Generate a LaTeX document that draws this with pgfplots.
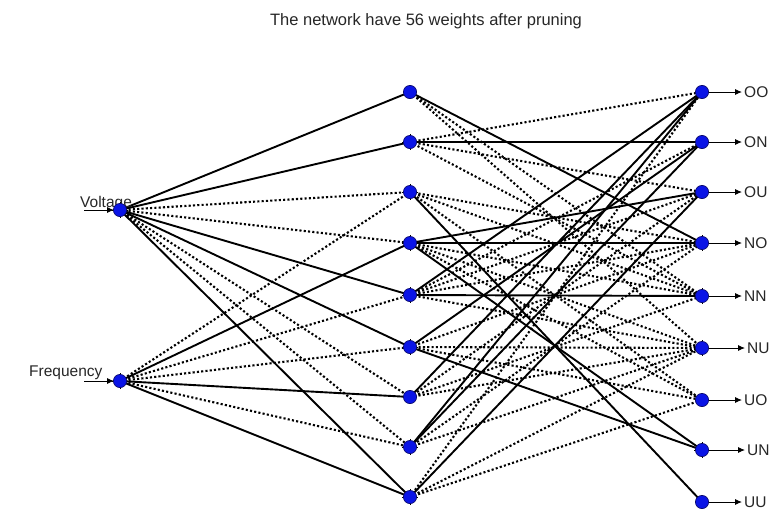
\documentclass[border=0pt]{standalone}
\usepackage{pgfplots}
\pgfplotsset{compat=1.18}
\usepackage{fontspec}
\setmainfont{Liberation Sans}
\usetikzlibrary{arrows.meta}
\definecolor{nodeblue}{RGB}{10,20,230}
\definecolor{nodeedge}{RGB}{10,10,110}
\begin{document}
\begin{tikzpicture}
\begin{axis}[
  scale only axis, width=783pt, height=512pt,
  xmin=0, xmax=783, ymin=0, ymax=512, y dir=reverse,
  hide axis, clip=false,
  sol/.style={black, line width=1.9pt, no marks},
  dot/.style={black, line width=2.1pt, dash pattern=on 2.1pt off 2.2pt, no marks},
  arr/.style={black, line width=0.9pt, no marks, -{Latex[length=7pt,width=6pt]}},
]
% ---------------- input -> hidden ----------------
% Voltage (120,210)
\addplot[sol] coordinates {(120,210) (410,92)};
\addplot[sol] coordinates {(120,210) (410,142)};
\addplot[dot] coordinates {(120,210) (410,192)};
\addplot[dot] coordinates {(120,210) (410,243)};
\addplot[sol] coordinates {(120,210) (410,295)};
\addplot[sol] coordinates {(120,210) (410,347)};
\addplot[dot] coordinates {(120,210) (410,397)};
\addplot[dot] coordinates {(120,210) (410,447)};
\addplot[sol] coordinates {(120,210) (410,497)};
% Frequency (120,381)
\addplot[dot] coordinates {(120,381) (410,192)};
\addplot[sol] coordinates {(120,381) (410,243)};
\addplot[dot] coordinates {(120,381) (410,295)};
\addplot[dot] coordinates {(120,381) (410,347)};
\addplot[sol] coordinates {(120,381) (410,397)};
\addplot[dot] coordinates {(120,381) (410,447)};
\addplot[sol] coordinates {(120,381) (410,497)};
% ---------------- hidden -> output ----------------
% H1
\addplot[sol] coordinates {(410,92) (702,243)};
\addplot[dot] coordinates {(410,92) (702,296)};
\addplot[dot] coordinates {(410,92) (702,348)};
% H2
\addplot[dot] coordinates {(410,142) (702,92)};
\addplot[sol] coordinates {(410,142) (702,142)};
\addplot[dot] coordinates {(410,142) (702,192)};
\addplot[dot] coordinates {(410,142) (702,296)};
% H3
\addplot[sol] coordinates {(410,192) (702,502)};
\addplot[dot] coordinates {(410,192) (702,296)};
\addplot[dot] coordinates {(410,192) (702,400)};
\addplot[dot] coordinates {(410,192) (702,243)};
% H4
\addplot[sol] coordinates {(410,243) (702,192)};
\addplot[sol] coordinates {(410,243) (702,243)};
\addplot[sol] coordinates {(410,243) (702,450)};
\addplot[dot] coordinates {(410,243) (702,296)};
\addplot[dot] coordinates {(410,243) (702,348)};
\addplot[dot] coordinates {(410,243) (702,400)};
% H5
\addplot[sol] coordinates {(410,295) (702,92)};
\addplot[sol] coordinates {(410,295) (702,296)};
\addplot[dot] coordinates {(410,295) (702,142)};
\addplot[dot] coordinates {(410,295) (702,243)};
\addplot[dot] coordinates {(410,295) (702,348)};
\addplot[dot] coordinates {(410,295) (702,192)};
% H6
\addplot[sol] coordinates {(410,347) (702,142)};
\addplot[sol] coordinates {(410,347) (702,450)};
\addplot[dot] coordinates {(410,347) (702,243)};
\addplot[dot] coordinates {(410,347) (702,348)};
\addplot[dot] coordinates {(410,347) (702,400)};
% H7
\addplot[sol] coordinates {(410,397) (702,92)};
\addplot[dot] coordinates {(410,397) (702,296)};
\addplot[dot] coordinates {(410,397) (702,192)};
\addplot[dot] coordinates {(410,397) (702,348)};
% H8
\addplot[sol] coordinates {(410,447) (702,142)};
\addplot[dot] coordinates {(410,447) (702,348)};
\addplot[dot] coordinates {(410,447) (702,243)};
\addplot[sol] coordinates {(410,447) (702,92)};
% H9
\addplot[sol] coordinates {(410,497) (702,192)};
\addplot[dot] coordinates {(410,497) (702,348)};
\addplot[dot] coordinates {(410,497) (702,92)};
\addplot[dot] coordinates {(410,497) (702,400)};
% ---------------- in/out arrows ----------------
\addplot[arr] coordinates {(84,210) (114,210)};
\addplot[arr] coordinates {(84,381) (114,381)};
\addplot[arr] coordinates {(708,92) (742,92)};
\addplot[arr] coordinates {(708,142) (742,142)};
\addplot[arr] coordinates {(708,192) (742,192)};
\addplot[arr] coordinates {(708,243) (742,243)};
\addplot[arr] coordinates {(708,296) (742,296)};
\addplot[arr] coordinates {(708,348) (745,348)};
\addplot[arr] coordinates {(708,400) (742,400)};
\addplot[arr] coordinates {(708,450) (745,450)};
\addplot[arr] coordinates {(708,502) (742,502)};
% ---------------- nodes ----------------
\addplot[only marks, mark=+, mark size=8pt, black, line width=0.9pt] coordinates {
 (120,210) (120,381)
 (410,142) (410,192) (410,243) (410,295) (410,347) (410,447) (410,497)
 (702,243) (702,296) (702,348) (702,450)};
\addplot[only marks, mark=*, mark size=6.6pt, mark options={fill=nodeblue, draw=nodeedge, line width=0.7pt}] coordinates {
 (120,210) (120,381)
 (410,92) (410,142) (410,192) (410,243) (410,295) (410,347) (410,397) (410,447) (410,497)
 (702,92) (702,142) (702,192) (702,243) (702,296) (702,348) (702,400) (702,450) (702,502)};
% ---------------- texts ----------------
\node[anchor=base, font=\fontsize{16.5}{18}\selectfont, text=black!85] at (axis cs:426,25) {The network have 56 weights after pruning};
\node[anchor=base west, font=\fontsize{15.5}{17}\selectfont, text=black!85, inner sep=0pt] at (axis cs:80,207) {Voltage};
\node[anchor=base west, font=\fontsize{15.5}{17}\selectfont, text=black!85, inner sep=0pt] at (axis cs:29,376) {Frequency};
\foreach \lab/\yy/\xx in {OO/92/744, ON/142/744, OU/192/744, NO/243/744, NN/296/744, NU/348/747, UO/400/744, UN/450/747, UU/502/744} {
  \edef\temp{\noexpand\node[anchor=west, font=\noexpand\fontsize{15.5}{17}\noexpand\selectfont, text=black!85, inner sep=0pt] at (axis cs:\xx,\yy) {\lab};}
  \temp
}
\end{axis}
\pgfresetboundingbox
\path (current axis.south west) rectangle (current axis.north east);
\end{tikzpicture}
\end{document}
